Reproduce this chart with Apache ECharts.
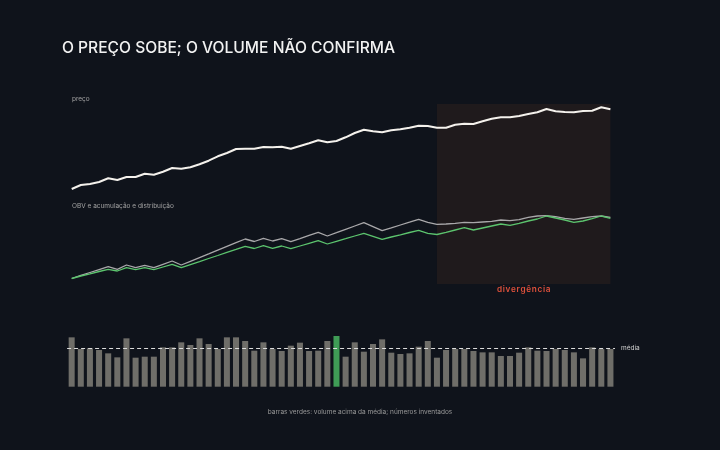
<!DOCTYPE html>
<html>
<head>
<meta charset="utf-8">
<script src="https://cdn.jsdelivr.net/npm/echarts@6/dist/echarts.min.js"></script>
<style>
  html, body { margin: 0; padding: 0; background: #0f131b; }
  #chart { width: 720px; height: 450px; }
</style>
</head>
<body>
<div id="chart"></div>
<script>
// 60 sessões
const dias = Array.from({ length: 60 }, (_, i) => 'd' + (i + 1));

const preco = [
  100, 104, 105, 107, 110.7, 109, 112, 112, 115.3, 114.3,
  117.3, 121, 120.3, 121.7, 124.7, 128.3, 132.7, 136, 140, 140.3,
  140.3, 142, 141.7, 142.3, 140.3, 143, 145.7, 148.7, 146.7, 148,
  151.7, 156, 159.3, 157.7, 156.7, 158.7, 159.7, 161.3, 163.3, 163,
  161.3, 161.3, 164.3, 165.3, 165, 167.7, 170.3, 171.7, 171.7, 173,
  175, 176.7, 180, 177.7, 177, 176.7, 178, 178.3, 181.7, 179.7
];

const obv = [
  0, 3.1, 6.0, 8.9, 11.8, 9.2, 13.5, 10.8, 13.2, 10.8,
  14.2, 17.5, 13.5, 17.2, 20.9, 24.6, 28.4, 32.1, 35.8, 39.5,
  37.0, 40.2, 37.5, 39.8, 36.8, 39.9, 43.1, 46.2, 42.5, 45.8,
  49.2, 52.5, 55.8, 51.8, 47.8, 50.6, 53.5, 56.3, 59.2, 56.2,
  54.2, 54.5, 55.2, 56.2, 55.8, 56.5, 57.2, 58.5, 57.8, 58.8,
  61.2, 62.5, 62.8, 61.8, 60.2, 59.2, 60.5, 61.8, 62.5, 61.2
];

const acumDist = [
  0, 2.5, 4.7, 7.0, 9.2, 7.5, 10.8, 8.8, 10.8, 8.8,
  11.5, 14.2, 10.8, 13.9, 16.9, 20.0, 23.0, 26.1, 29.1, 32.2,
  30.0, 32.8, 30.2, 32.5, 29.8, 32.5, 35.2, 37.8, 34.5, 37.2,
  39.8, 42.5, 45.2, 42.2, 39.2, 41.5, 43.7, 46.0, 48.2, 45.2,
  44.0, 46.2, 48.5, 50.8, 48.5, 50.5, 52.5, 54.5, 53.2, 55.2,
  57.5, 59.5, 62.5, 60.5, 58.5, 56.2, 57.5, 59.8, 62.5, 60.2
];

const volume = [
  148, 113, 115, 110, 100, 88, 145, 87, 90, 90,
  118, 118, 133, 125, 145, 128, 113, 148, 148, 137,
  108, 133, 113, 107, 123, 132, 107, 108, 137, 152,
  90, 133, 105, 128, 142, 102, 98, 100, 120, 137,
  87, 110, 113, 113, 107, 103, 103, 92, 92, 102,
  118, 108, 107, 113, 110, 103, 85, 118, 113, 113
];

// barras destacadas em verde
const destaque = [29];

// janela da divergência (índices de início e fim)
const divergencia = [40, 59];

const FONT = 'Inter, "Noto Sans", sans-serif';

const chart = echarts.init(document.getElementById('chart'));

const L = 71.7, R = 109.6;

const small = { color: '#a3a3a3', fontSize: 6.5, fontWeight: 400, fontFamily: FONT };

const option = {
  backgroundColor: '#0f131b',
  animation: false,
  title: [
    {
      text: 'O PREÇO SOBE; O VOLUME NÃO CONFIRMA',
      left: 62, top: 40, padding: 0,
      textStyle: { color: '#f2f2f2', fontSize: 15.6, fontWeight: 500, fontFamily: FONT }
    },
    { text: 'preço', left: 72, top: 96, padding: 0, textStyle: small },
    { text: 'OBV e acumulação e distribuição', left: 72, top: 203, padding: 0, textStyle: small },
    {
      text: 'barras verdes: volume acima da média; números inventados',
      left: 'center', top: 409, padding: 0,
      textStyle: Object.assign({}, small, { color: '#9a9a9a' })
    }
  ],
  grid: [
    { left: L, right: R, top: 100, height: 95 },
    { left: L, right: R, top: 210, height: 75 },
    { left: L, right: R, top: 104, height: 180 },
    { left: 67.1, right: 105, top: 330, height: 56.7 }
  ],
  xAxis: [0, 1, 2, 3].map(i => ({
    type: 'category',
    gridIndex: i,
    data: dias,
    boundaryGap: i === 3,
    show: false
  })),
  yAxis: [
    { type: 'value', gridIndex: 0, min: 94, max: 189, show: false },
    { type: 'value', gridIndex: 1, min: -6.5, max: 68.5, show: false },
    { type: 'value', gridIndex: 2, min: 0, max: 1, show: false },
    { type: 'value', gridIndex: 3, min: 0, max: 170, show: false }
  ],
  series: [
    {
      name: 'preço',
      type: 'line',
      xAxisIndex: 0, yAxisIndex: 0,
      data: preco,
      symbol: 'none',
      lineStyle: { color: '#f4f1ec', width: 2 }
    },
    {
      name: 'OBV',
      type: 'line',
      xAxisIndex: 1, yAxisIndex: 1,
      data: obv,
      symbol: 'none',
      lineStyle: { color: '#a9a8aa', width: 1.3 }
    },
    {
      name: 'acumulação e distribuição',
      type: 'line',
      xAxisIndex: 1, yAxisIndex: 1,
      data: acumDist,
      symbol: 'none',
      lineStyle: { color: '#5cc46e', width: 1.3 }
    },
    {
      name: 'divergência',
      type: 'line',
      xAxisIndex: 2, yAxisIndex: 2,
      data: [],
      z: 10,
      markArea: {
        silent: true,
        itemStyle: { color: 'rgba(200,95,40,0.09)' },
        label: {
          show: true,
          position: 'bottom',
          distance: 2,
          formatter: 'd\u200Ai\u200Av\u200Ae\u200Ar\u200Ag\u200Aê\u200An\u200Ac\u200Ai\u200Aa',
          color: '#e0513b',
          fontSize: 8.2,
          fontWeight: 600,
          fontFamily: FONT
        },
        data: [[{ xAxis: divergencia[0] }, { xAxis: divergencia[1] }]]
      }
    },
    {
      name: 'volume',
      type: 'bar',
      xAxisIndex: 3, yAxisIndex: 3,
      data: volume,
      barWidth: '66%',
      itemStyle: {
        color: p => destaque.includes(p.dataIndex) ? '#3f9c56' : '#6f6e69'
      },
      markLine: {
        silent: true,
        symbol: ['none', 'none'],
        lineStyle: { color: '#dcdcdc', width: 1, type: [4, 3] },
        label: {
          position: 'end',
          distance: 6,
          formatter: 'média',
          color: '#cfcfcf',
          fontSize: 6.5,
          fontFamily: FONT
        },
        data: [{ type: 'average' }]
      }
    }
  ]
};

chart.setOption(option);
</script>
</body>
</html>
